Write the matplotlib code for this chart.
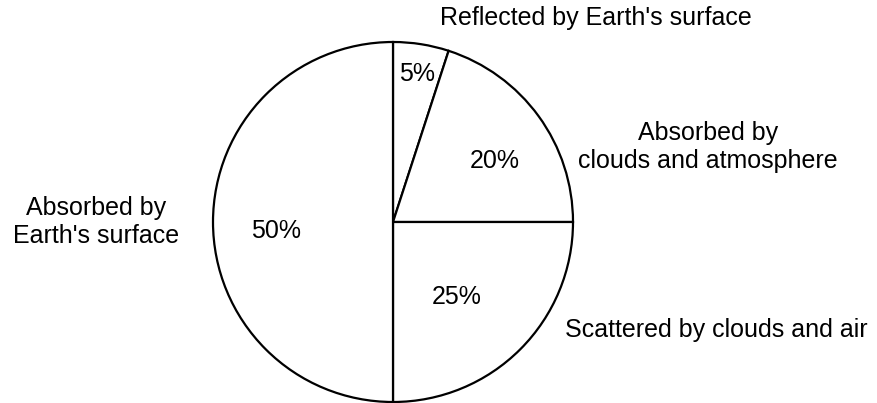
import matplotlib.pyplot as plt

plt.rcParams['font.family'] = ['Liberation Sans', 'DejaVu Sans']

# Solar radiation budget (clockwise from the top)
fatias = ['Reflected by Earth\'s surface', 'Absorbed by\nclouds and atmosphere',
          'Scattered by clouds and air', 'Absorbed by\nEarth\'s surface']
valores = [5, 20, 25, 50]
pct_labels = ['5%', '20%', '25%', '50%']

fig = plt.figure(figsize=(8.77, 4.03), dpi=100)
ax = fig.add_axes([0, 0, 1, 1])

# pie in pixel coordinates (y axis points down, so counterclock=True draws clockwise)
ax.pie(valores, startangle=-90, counterclock=True, center=(393, 222), radius=180,
       colors=['white'] * len(valores), frame=True,
       wedgeprops={'edgecolor': 'black', 'linewidth': 1.6})
ax.set_xlim(0, 877)
ax.set_ylim(403, 0)
ax.set_aspect('equal')
ax.axis('off')

fs = 18
# percentages inside the slices
pos_pct = [(417, 74), (495, 161), (457, 297), (276, 231)]
for txt, (x, y) in zip(pct_labels, pos_pct):
    ax.text(x, y, txt, ha='center', va='center', fontsize=fs)

# category labels outside
pos_lbl = [(596, 18), (708, 147), (716, 330), (96, 222)]
for txt, (x, y) in zip(fatias, pos_lbl):
    ax.text(x, y, txt, ha='center', va='center', fontsize=fs, linespacing=1.2)

plt.savefig('out.png', dpi=100, facecolor='white')
